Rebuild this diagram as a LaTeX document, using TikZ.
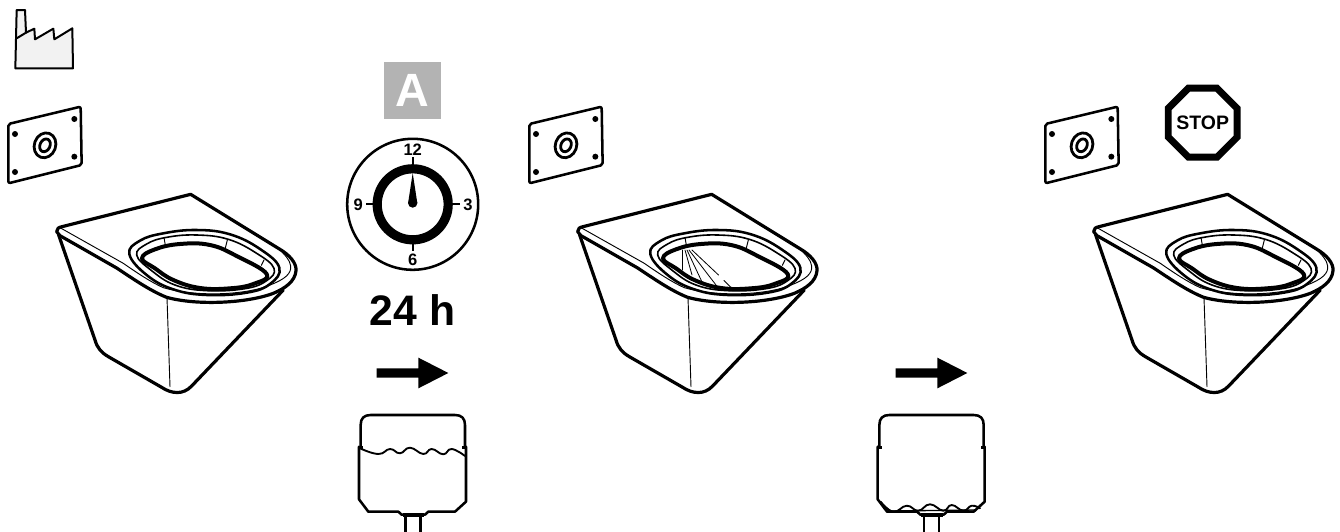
\documentclass[tikz,border=0pt]{standalone}
\usepackage{fontspec}
\setmainfont{Liberation Sans}
\usetikzlibrary{shapes.geometric}
\definecolor{badgegrey}{RGB}{179,179,179}
\definecolor{factorygrey}{RGB}{242,242,242}
\tikzset{
  base/.style={font=\bfseries, inner sep=0pt, text=black},
  heavy/.style={line width=1.9pt, line join=round, line cap=round},
  thick line/.style={line width=2.4pt, line join=round, line cap=round},
  hair/.style={line width=0.7pt, line cap=round},
  hourlbl/.style={base, font=\bfseries\fontsize{12.4}{12.4}\selectfont},
  stopsign/.style={regular polygon, regular polygon sides=8, draw=black, fill=white, line width=5.2pt, inner sep=0pt, minimum size=56pt},
  % all of these use 3x zoomed pixels as local units
  pics/plate/.style={code={
    \begin{scope}[scale=1/3]
      \draw[heavy,rounded corners=1.5pt] (25,372) -- (242,320) -- (245,495) -- (25,550) -- cycle;
      \foreach \hx/\hy in {45/402,223/357,223/470,45/516}{\fill (\hx,\hy) circle (9);}
      \draw[heavy,line width=2.1pt,rotate around={-20:(135,436)}] (135,436) ellipse (32 and 38);
      \draw[heavy,line width=2.1pt,rotate around={-25:(135,436)}] (135,436) ellipse (15 and 20);
    \end{scope}}},
  pics/toilet/.style={code={
    \begin{scope}[scale=1/3]
      \draw[thick line,fill=white] (50,155) .. controls (50,146) and (56,142) .. (66,140) -- (452,43) -- (715,205)
        .. controls (750,225) and (770,250) .. (768,272) .. controls (765,305) and (735,325) .. (700,340)
        .. controls (620,370) and (470,377) .. (380,352) .. controls (330,332) and (280,297) .. (230,264) -- (60,167) -- cycle;
      \draw[hair] (60,143) -- (250,250) .. controls (300,285) and (340,310) .. (370,323)
        .. controls (470,352) and (620,345) .. (690,315) .. controls (735,298) and (755,280) .. (752,258) .. controls (750,240) and (735,225) .. (715,205);
      \draw[thick line] (56,165) -- (165,480) .. controls (172,505) and (185,518) .. (205,530) -- (365,622)
        .. controls (395,642) and (430,645) .. (455,618) -- (730,330);
      \draw[hair] (381,352) -- (390,620);
      \draw[heavy] plot[smooth cycle,tension=0.7] coordinates {(268,222) (300,182) (370,160) (470,150) (570,163) (660,207) (718,263) (690,312) (620,338) (500,345) (400,328) (320,285)};
      \draw[hair,line width=1.2pt] plot[smooth cycle,tension=0.7] coordinates {(290,225) (320,192) (380,172) (470,165) (565,178) (650,220) (702,265) (680,302) (615,326) (500,332) (405,315) (335,272)};
      \draw[thick line,line width=3pt] plot[smooth cycle,tension=0.7] coordinates {(306,235) (345,208) (420,192) (510,195) (590,228) (680,282) (640,312) (570,325) (480,324) (400,300) (345,265)};
      \draw[hair] (372,172) -- (376,196);
      \draw[hair] (562,180) -- (556,204);
      \draw[hair] (672,240) -- (664,256);
    \end{scope}}},
  pics/cistern/.style={code={
    \begin{scope}[scale=1/3]
      \draw[heavy] (62,290) -- (62,225) .. controls (62,205) and (72,195) .. (92,195) -- (345,195)
        .. controls (365,195) and (375,205) .. (375,225) -- (375,290);
      \draw[heavy] (57,290) -- (57,448) -- (85,485) -- (175,485) -- (185,494) -- (255,494) -- (265,485) -- (345,485) -- (378,455) -- (378,290);
      \fill (58,287) rectangle (70,297);
      \fill (367,287) rectangle (378,297);
      \draw[line width=3.2pt] (188,496) -- (252,496);
      \draw[heavy,line cap=butt] (196,500) -- (196,560) (241,500) -- (241,560);
    \end{scope}}},
  pics/flowarrow/.style={code={
    \fill[scale=1/3] (0,-14) -- (125,-14) -- (125,-46) -- (215,0) -- (125,46) -- (125,14) -- (0,14) -- cycle;}},
}
\begin{document}
\begin{tikzpicture}[x=0.75pt,y=-0.75pt]
  \useasboundingbox[fill=white] (0,0) rectangle (1340,532);
  % factory mark
  \draw[heavy,line width=1.5pt,fill=factorygrey,scale=1/3] (46,205) -- (50,30) -- (75,30) -- (78,98) -- (103,86) -- (105,118) -- (160,86) -- (163,118) -- (217,85) -- (219,205) -- cycle;
  \draw[heavy,line width=1.5pt,scale=1/3] (50,115) -- (78,98);
  % plates and pans
  \foreach \dx in {0,521,1037}{
    \pic at (\dx,0) {plate};
    \pic at ({40+\dx},180) {toilet};
  }
  % timer
  \node[fill=badgegrey,minimum width=42.75pt,minimum height=42.75pt,inner sep=0pt,text=white,font=\bfseries\fontsize{35}{35}\selectfont] (badge) at (412.7,90.5) {A};
  \coordinate (clockc) at (412.7,204.3);
  \draw[line width=1.9pt] (clockc) circle (65.5);
  \draw[line width=6.9pt] (clockc) circle (35.5);
  \foreach \a in {0,90,180,270}{\draw[line width=1.4pt] (clockc) ++(\a:39) -- ++(\a:8);}
  \node[hourlbl] (h12) at (412.7,149.3) {12};
  \node[hourlbl] (h3) at (468,204.6) {3};
  \node[hourlbl] (h9) at (358.3,204.6) {9};
  \node[hourlbl] (h6) at (412.7,260) {6};
  \fill (408.1,203) -- (412.7,173) -- (417.3,203) -- cycle;
  \fill (412.7,203) circle (4.7);
  \node[base,font=\bfseries\fontsize{32}{32}\selectfont] (hours) at (412.5,310) {24 h};
  % arrows to next step
  \pic at (376.7,373) {flowarrow};
  \pic at (895.7,373) {flowarrow};
  % cisterns with water level
  \pic at (340,350) {cistern};
  \pic at (858.7,350) {cistern};
  \draw[heavy,line width=1.4pt] plot[smooth,tension=0.8] coordinates {(360,448.3) (378.3,454) (390,449) (400,453.3) (410,447.7) (423.3,454) (431.7,449) (443.3,454.3) (451.7,449) (465,456)};
  \draw[heavy,line width=1.4pt] plot[smooth,tension=0.8] coordinates {(880.7,501.7) (893.3,511.7) (906.7,505.7) (918.3,510.7) (930,504.3) (943.3,510.7) (951.7,505) (963.3,510.7) (971.7,505.7) (980,508.3)};
  \draw[heavy,line width=1pt] (883,506) -- (889,511) -- (976,510);
  % spray
  \foreach \sx/\sy/\ex/\ey in {682/250/682/270, 685/250/692/275, 687/250/702/282, 689/250/716/285, 692/250/718.5/275}{
    \draw[hair,line width=0.6pt] (\sx,\sy) -- (\ex,\ey);
  }
  \draw[hair,line width=0.6pt] (724,280.5) -- (731.5,288);
  % stop
  \node[stopsign] (halt) at (1202.7,122.7) {};
  \node[base,font=\bfseries\fontsize{14.6}{14.6}\selectfont] (halttext) at (halt) {STOP};
\end{tikzpicture}
\end{document}
